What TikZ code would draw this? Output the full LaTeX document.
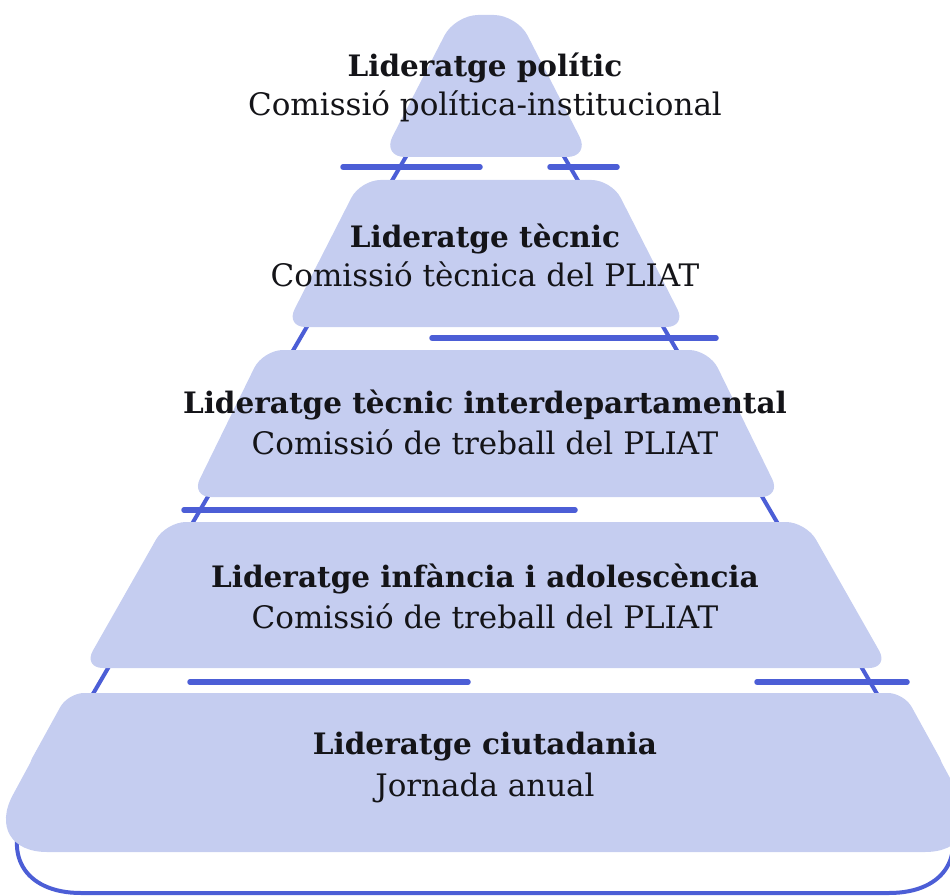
\documentclass[tikz,border=0pt]{standalone}
\usepackage{fontspec}
\setmainfont{DejaVu Serif}
\definecolor{tierfill}{RGB}{197,205,240}
\definecolor{lineblue}{RGB}{76,94,214}
\definecolor{textc}{RGB}{20,20,24}
\begin{document}
\begin{tikzpicture}[x=1pt,y=-1pt,
  tier/.style={fill=tierfill},
  bline/.style={draw=lineblue, line width=5.5pt, line cap=round},
  outl/.style={draw=lineblue, line width=4pt},
  head/.style={font=\fontsize{29.5}{32}\selectfont\bfseries, text=textc, anchor=base, inner sep=0pt},
  sub/.style={font=\fontsize{31}{34}\selectfont, text=textc, anchor=base, inner sep=0pt}]
\useasboundingbox (0,0) rectangle (950,896);
% outline of the pyramid
\draw[outl, rounded corners=104pt] (485,893) -- (-23,893) -- (485,21) -- (993,893) -- cycle;
% separator lines
\draw[bline] (343,167) -- (480,167);
\draw[bline] (550,167) -- (617,167);
\draw[bline] (432,338) -- (716,338);
\draw[bline] (184,510) -- (575,510);
\draw[bline] (190,682) -- (468,682);
\draw[bline] (757,682) -- (907,682);
% tier 1
\fill[tier, rounded corners=23pt] (486,157) -- (382,157) -- (455,15) -- (517,15) -- (590,157) -- cycle;
% tier 2
\fill[tier, rounded corners=20pt] (486,327) -- (285.5,327) -- (360.4,180) -- (611.6,180) -- (686.5,327) -- cycle;
% tier 3
\fill[tier, rounded corners=20pt] (486,497) -- (191,497) -- (263,350) -- (709,350) -- (781,497) -- cycle;
% tier 4
\fill[tier, rounded corners=20pt] (486,668) -- (83,668) -- (166,522) -- (806,522) -- (889,668) -- cycle;
% tier 5
\fill[tier, rounded corners=65pt] (486,852) -- (-18,852) -- (68,693) -- (904,693) -- (990,852) -- cycle;
\fill[tier, rounded corners=16pt] (486,772) -- (24.5,772) -- (68,693) -- (904,693) -- (947.5,772) -- cycle;
% texts
\node[head] (h1) at (485,77) {Lideratge polític};
\node[sub]  (s1) at (485,116) {Comissió política-institucional};
\node[head] (h2) at (485,247) {Lideratge tècnic};
\node[sub]  (s2) at (485,286) {Comissió tècnica del PLIAT};
\node[head] (h3) at (485,413) {Lideratge tècnic interdepartamental};
\node[sub]  (s3) at (485,454) {Comissió de treball del PLIAT};
\node[head] (h4) at (485,587) {Lideratge infància i adolescència};
\node[sub]  (s4) at (485,628) {Comissió de treball del PLIAT};
\node[head] (h5) at (485,754) {Lideratge ciutadania};
\node[sub]  (s5) at (485,796) {Jornada anual};
\end{tikzpicture}
\end{document}
